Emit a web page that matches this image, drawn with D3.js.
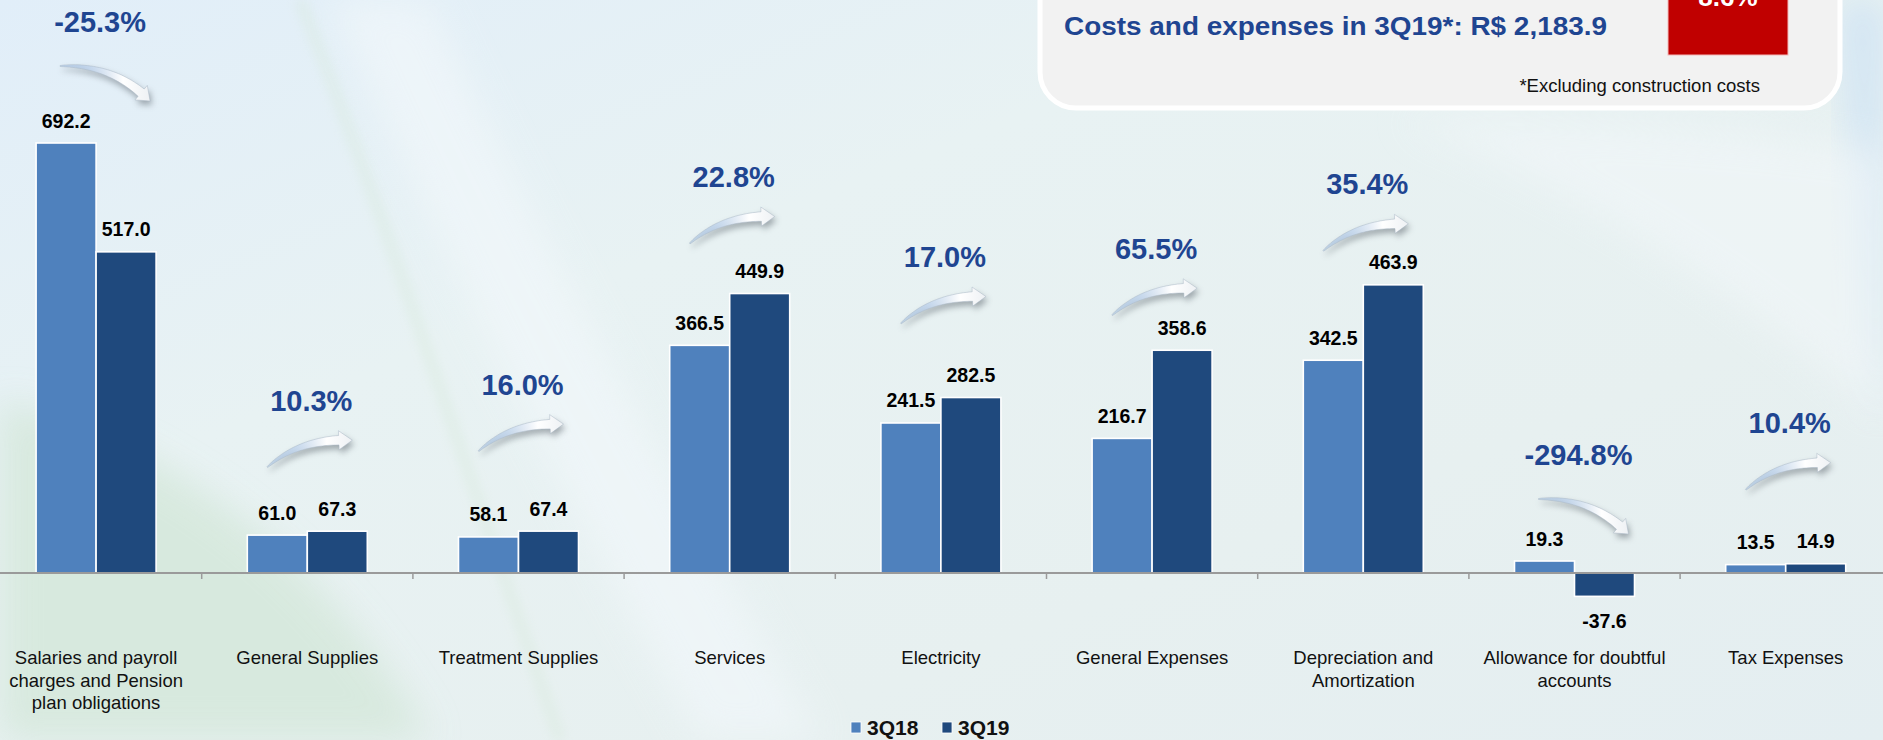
<!DOCTYPE html>
<html>
<head>
<meta charset="utf-8">
<script src="https://cdn.jsdelivr.net/npm/d3@7"></script>
<style>
  html, body { margin: 0; padding: 0; overflow: hidden; }
  body { width: 1883px; height: 740px; }
  svg { display: block; font-family: "Liberation Sans", Arial, sans-serif; }
</style>
</head>
<body>
<svg id="chart" width="1883" height="740"></svg>
<script>
// ---------------- DATA ----------------
const categories = [
  "Salaries and payroll\ncharges and Pension\nplan obligations",
  "General Supplies",
  "Treatment Supplies",
  "Services",
  "Electricity",
  "General Expenses",
  "Depreciation and\nAmortization",
  "Allowance for doubtful\naccounts",
  "Tax Expenses"
];
const series = ["3Q18", "3Q19"];
const values3Q18 = [692.2, 61.0, 58.1, 366.5, 241.5, 216.7, 342.5, 19.3, 13.5];
const values3Q19 = [517.0, 67.3, 67.4, 449.9, 282.5, 358.6, 463.9, -37.6, 14.9];
const changeLabels = ["-25.3%", "10.3%", "16.0%", "22.8%", "17.0%", "65.5%", "35.4%", "-294.8%", "10.4%"];
const boxTitle = "Costs and expenses in 3Q19*: R$ 2,183.9";
const boxNote = "*Excluding construction costs";
const boxChange = "8.6%";

// ---------------- LAYOUT (annotation placement, px above tallest bar) ----------------
const pctLift = [122, 131, 147, 117, 141, 102, 101, 107, 141];
const colors = { "3Q18": "#4F81BD", "3Q19": "#1F497D" };
const W = 1883, H = 740;
const baseY = 573;

const svg = d3.select("#chart");
const defs = svg.append("defs");

// ---------------- BACKGROUND ----------------
const bg = defs.append("linearGradient").attr("id", "bg").attr("x1", 0).attr("y1", 0).attr("x2", 1).attr("y2", 1);
bg.append("stop").attr("offset", "0%").attr("stop-color", "#e1eef9");
bg.append("stop").attr("offset", "35%").attr("stop-color", "#e8f2f3");
bg.append("stop").attr("offset", "70%").attr("stop-color", "#e7f0f0");
bg.append("stop").attr("offset", "100%").attr("stop-color", "#e4eef1");
svg.append("rect").attr("width", W).attr("height", H).attr("fill", "url(#bg)");

const blur = defs.append("filter").attr("id", "softblur").attr("x", "-20%").attr("y", "-20%").attr("width", "140%").attr("height", "140%");
blur.append("feGaussianBlur").attr("stdDeviation", 18);
const blurS = defs.append("filter").attr("id", "blurS").attr("x", "-20%").attr("y", "-20%").attr("width", "140%").attr("height", "140%");
blurS.append("feGaussianBlur").attr("stdDeviation", 3);
const blurM = defs.append("filter").attr("id", "blurM").attr("x", "-20%").attr("y", "-20%").attr("width", "140%").attr("height", "140%");
blurM.append("feGaussianBlur").attr("stdDeviation", 6);

// green-ish lower left swoosh
svg.append("path").attr("d", "M0,400 C180,450 330,560 430,740 L0,740 Z")
  .attr("fill", "#d5e8db").attr("opacity", 0.85).attr("filter", "url(#softblur)");
// pale bright swoosh centre-left
svg.append("path").attr("d", "M330,0 C420,200 520,420 700,740 L820,740 C640,420 520,200 430,0 Z")
  .attr("fill", "#f1f7fa").attr("opacity", 0.7).attr("filter", "url(#softblur)");
// faint green line swoosh
svg.append("path").attr("d", "M300,0 C360,150 420,330 560,740")
  .attr("fill", "none").attr("stroke", "#d6e8d8").attr("stroke-width", 10).attr("opacity", 0.45).attr("filter", "url(#blurM)");
// light blue right edge
svg.append("path").attr("d", "M1840,0 L1883,0 L1883,420 C1860,300 1850,150 1840,0 Z")
  .attr("fill", "#cfe3f4").attr("opacity", 0.9).attr("filter", "url(#softblur)");
svg.append("path").attr("d", "M1400,120 C1600,200 1750,300 1883,420 L1883,150 C1750,130 1600,120 1400,120 Z")
  .attr("fill", "#f2f7f9").attr("opacity", 0.6).attr("filter", "url(#softblur)");

// ---------------- SCALES ----------------
const x = d3.scaleBand().domain(categories).range([-9.5, -9.5 + 9 * 211.2]).padding(0);
const bw = x.bandwidth();
const x1 = d3.scaleBand().domain(series).range([bw / 2 - 60, bw / 2 + 60]).padding(0);
const y = d3.scaleLinear().domain([0, 692.2]).range([baseY, 143]);
const fmt = v => d3.format(".1f")(v).replace("\u2212", "-");

const rows = categories.map((c, i) => ({ cat: c, i, vals: [values3Q18[i], values3Q19[i]] }));

// ---------------- BARS ----------------
const g = svg.append("g");
const groups = g.selectAll("g.cat").data(rows).join("g").attr("class", "cat")
  .attr("transform", d => `translate(${x(d.cat)},0)`);

groups.selectAll("rect").data(d => d.vals.map((v, k) => ({ s: series[k], v })))
  .join("rect")
  .attr("x", d => x1(d.s))
  .attr("width", x1.bandwidth())
  .attr("y", d => Math.min(y(d.v), y(0)))
  .attr("height", d => Math.abs(y(d.v) - y(0)))
  .attr("fill", d => colors[d.s])
  .attr("stroke", "#ffffff").attr("stroke-width", 1.6);

// value labels
groups.selectAll("text.val").data(d => d.vals.map((v, k) => ({ s: series[k], v })))
  .join("text").attr("class", "val")
  .attr("x", d => x1(d.s) + x1.bandwidth() / 2)
  .attr("y", d => d.v >= 0 ? y(d.v) - 15.5 : y(d.v) + 32)
  .attr("text-anchor", "middle")
  .attr("font-size", "19.5px").attr("font-weight", "bold").attr("fill", "#000")
  .text(d => fmt(d.v));

// ---------------- AXIS ----------------
const axis = d3.axisBottom(x).tickSize(0).tickFormat("");
const axG = svg.append("g").attr("transform", `translate(0,${baseY})`).call(axis);
axG.select(".domain").attr("d", `M0,0H${W}`).attr("stroke", "#9a9a9a").attr("stroke-width", 2.2);
axG.selectAll(".tick").remove();
axG.selectAll("line.bt").data(categories.slice(1)).join("line").attr("class", "bt")
  .attr("x1", d => x(d)).attr("x2", d => x(d)).attr("y1", 0).attr("y2", 6)
  .attr("stroke", "#9a9a9a").attr("stroke-width", 1.5);

// category labels
const catLab = svg.append("g").selectAll("text").data(categories).join("text")
  .attr("x", d => x(d) + bw / 2).attr("y", 664)
  .attr("text-anchor", "middle").attr("font-size", "18.5px").attr("fill", "#111");
catLab.selectAll("tspan").data(d => d.split("\n").map(l => ({ l, cx: x(d) + bw / 2 })))
  .join("tspan").attr("x", d => d.cx).attr("dy", (d, i) => i === 0 ? 0 : 22.5).text(d => d.l);

// ---------------- CHANGE ARROWS & LABELS ----------------
const ag = defs.append("linearGradient").attr("id", "arrowGrad").attr("x1", 0).attr("y1", 0).attr("x2", 1).attr("y2", 0);
ag.append("stop").attr("offset", "0%").attr("stop-color", "#8fb0da").attr("stop-opacity", 0.4);
ag.append("stop").attr("offset", "35%").attr("stop-color", "#c4d7ee").attr("stop-opacity", 0.85);
ag.append("stop").attr("offset", "70%").attr("stop-color", "#ffffff").attr("stop-opacity", 1);
ag.append("stop").attr("offset", "100%").attr("stop-color", "#eef1f4").attr("stop-opacity", 1);

function arrowShape(p0, c, p2, w0, w1, headLen, headW) {
  const B = t => [(1 - t) * (1 - t) * p0[0] + 2 * (1 - t) * t * c[0] + t * t * p2[0],
                  (1 - t) * (1 - t) * p0[1] + 2 * (1 - t) * t * c[1] + t * t * p2[1]];
  const D = t => [2 * (1 - t) * (c[0] - p0[0]) + 2 * t * (p2[0] - c[0]),
                  2 * (1 - t) * (c[1] - p0[1]) + 2 * t * (p2[1] - c[1])];
  let len = 0, prev = B(0);
  for (let k = 1; k <= 50; k++) { const p = B(k / 50); len += Math.hypot(p[0] - prev[0], p[1] - prev[1]); prev = p; }
  const tEnd = 1 - headLen / len;
  const up = [], lo = [];
  const N = 30;
  for (let k = 0; k <= N; k++) {
    const t = tEnd * k / N;
    const p = B(t), d = D(t), m = Math.hypot(d[0], d[1]);
    const n = [-d[1] / m, d[0] / m];
    const w = w0 + (w1 - w0) * Math.pow(k / N, 0.8);
    up.push([p[0] + n[0] * w / 2, p[1] + n[1] * w / 2]);
    lo.push([p[0] - n[0] * w / 2, p[1] - n[1] * w / 2]);
  }
  const pb = B(tEnd), d = D(tEnd), m = Math.hypot(d[0], d[1]);
  const n = [-d[1] / m, d[0] / m];
  const h1 = [pb[0] + n[0] * headW / 2, pb[1] + n[1] * headW / 2];
  const h2 = [pb[0] - n[0] * headW / 2, pb[1] - n[1] * headW / 2];
  const pts = up.concat([h1, p2, h2]).concat(lo.reverse());
  return "M" + pts.map(p => p[0].toFixed(1) + "," + p[1].toFixed(1)).join("L") + "Z";
}

const ann = svg.append("g");
rows.forEach((d, i) => {
  const cx = x(d.cat) + bw / 2;
  const topY = y(Math.max(d.vals[0], d.vals[1]));
  const L = topY - pctLift[i];
  const upward = d.vals[1] >= d.vals[0];
  let p0, c, p2;
  if (upward) {
    p0 = [cx - 40, L + 67]; p2 = [cx + 45, L + 40];
    c = [p0[0] + 0.38 * (p2[0] - p0[0]), p2[1] - 2];
  } else {
    p0 = [cx - 36, L + 45]; p2 = [cx + 54, L + 80];
    c = [p0[0] + 0.6 * (p2[0] - p0[0]), p0[1] - 2];
  }
  const shape = arrowShape(p0, c, p2, 1, 9.5, 12, 19);
  ann.append("path").attr("d", shape).attr("fill", "#5f6770").attr("opacity", 0.55)
    .attr("transform", "translate(2,4)").attr("filter", "url(#blurS)");
  ann.append("path").attr("d", shape).attr("fill", "url(#arrowGrad)")
    .attr("stroke", "#aab7c6").attr("stroke-width", 0.7).attr("stroke-opacity", 0.7);
  ann.append("text").attr("x", cx + 4).attr("y", L + 10.5)
    .attr("text-anchor", "middle").attr("font-size", "29px").attr("font-weight", "bold")
    .attr("fill", "#1f4591").text(changeLabels[i]);
});

// ---------------- TOP RIGHT BOX ----------------
const box = svg.append("g");
box.append("rect").attr("x", 1040).attr("y", -60).attr("width", 800).attr("height", 168).attr("rx", 36)
  .attr("fill", "#f2f2f2").attr("stroke", "#ffffff").attr("stroke-width", 5);
box.append("text").attr("x", 1064).attr("y", 35).attr("font-size", "26px").attr("font-weight", "bold")
  .attr("fill", "#1f4591").attr("textLength", 543).attr("lengthAdjust", "spacingAndGlyphs").text(boxTitle);
box.append("rect").attr("x", 1668).attr("y", -10).attr("width", 120).attr("height", 65)
  .attr("fill", "#c00000").attr("stroke", "#f3b8b8").attr("stroke-width", 1);
box.append("text").attr("x", 1728).attr("y", 5.5).attr("text-anchor", "middle")
  .attr("font-size", "26px").attr("font-weight", "bold").attr("fill", "#ffffff").text(boxChange);
box.append("text").attr("x", 1760).attr("y", 92).attr("text-anchor", "end")
  .attr("font-size", "18.5px").attr("fill", "#111").text(boxNote);

// ---------------- LEGEND ----------------
const leg = svg.append("g");
const legX = [851, 942];
series.forEach((s, k) => {
  leg.append("rect").attr("x", legX[k]).attr("y", 722).attr("width", 10).attr("height", 11)
    .attr("fill", colors[s]).attr("stroke", "#fff").attr("stroke-width", 0.8);
  leg.append("text").attr("x", legX[k] + 16).attr("y", 735).attr("font-size", "21px")
    .attr("font-weight", "bold").attr("fill", "#111").text(s);
});
</script>
</body>
</html>
